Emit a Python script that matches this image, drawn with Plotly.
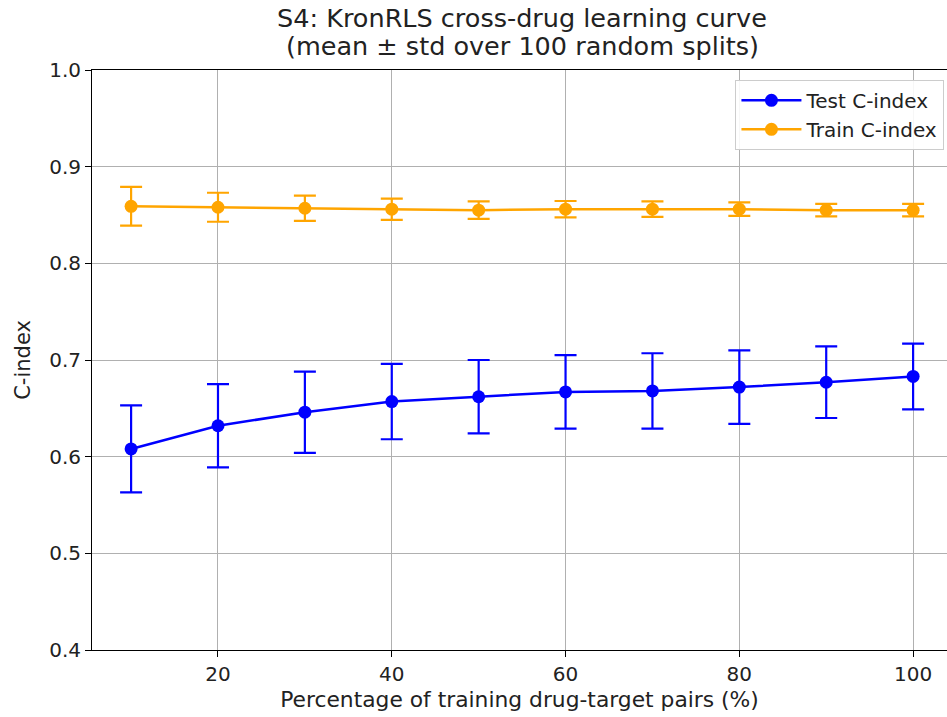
import plotly.graph_objects as go

pct = [10, 20, 30, 40, 50, 60, 70, 80, 90, 100]
test_mean = [0.608, 0.632, 0.646, 0.657, 0.662, 0.667, 0.668, 0.672, 0.677, 0.683]
test_std = [0.045, 0.043, 0.042, 0.039, 0.038, 0.038, 0.039, 0.038, 0.037, 0.034]
train_mean = [0.859, 0.858, 0.857, 0.856, 0.855, 0.856, 0.856, 0.856, 0.855, 0.855]
train_std = [0.020, 0.015, 0.013, 0.011, 0.009, 0.0085, 0.008, 0.007, 0.0065, 0.0065]
title_lines = ["S4: KronRLS cross-drug learning curve", "(mean ± std over 100 random splits)"]

font = "DejaVu Sans, sans-serif"
fig = go.Figure()
fig.add_trace(go.Scatter(
    x=pct, y=test_mean, mode="lines+markers", name="Test C-index",
    line=dict(color="#0000ff", width=2.5),
    marker=dict(color="#0000ff", size=13),
    error_y=dict(type="data", array=test_std, visible=True, color="#0000ff", thickness=2.2, width=11),
))
fig.add_trace(go.Scatter(
    x=pct, y=train_mean, mode="lines+markers", name="Train C-index",
    line=dict(color="#ffa500", width=2.5),
    marker=dict(color="#ffa500", size=13),
    error_y=dict(type="data", array=train_std, visible=True, color="#ffa500", thickness=2.2, width=11),
))

fig.update_layout(
    width=947, height=717,
    margin=dict(l=92, r=0, t=70, b=67),
    paper_bgcolor="white", plot_bgcolor="white",
    font=dict(family=font, size=20, color="#222"),
    title=dict(text=title_lines[0],
               x=522 / 947, xanchor="center", y=1 - 18 / 717, yanchor="middle", yref="container",
               font=dict(size=25.5, family=font, color="#222")),
    showlegend=True,
    legend=dict(x=0.997, xanchor="right", y=0.983, yanchor="top", itemwidth=60,
                bgcolor="rgba(255,255,255,0.9)", bordercolor="#cccccc", borderwidth=1,
                font=dict(size=20, family=font)),
    xaxis=dict(range=[5.5, 103.9], tickvals=[20, 40, 60, 80, 100],
               showgrid=True, gridcolor="#b0b0b0", gridwidth=1,
               showline=True, linecolor="black", linewidth=1, mirror=True,
               ticks="outside", ticklen=6, tickcolor="black",
               zeroline=False, automargin=False,
               title=dict(text="Percentage of training drug-target pairs (%)", font=dict(size=21.8), standoff=6)),
    yaxis=dict(range=[0.4, 1.0], dtick=0.1, tickformat=".1f",
               showgrid=True, gridcolor="#b0b0b0", gridwidth=1,
               showline=True, linecolor="black", linewidth=1, mirror=False,
               ticks="outside", ticklen=6, tickcolor="black",
               zeroline=False, automargin=False,
               title=dict(text="C-index", font=dict(size=21), standoff=12)),
)
fig.add_annotation(text=title_lines[1], xref="paper", yref="paper",
                   x=(522 - 92) / 855, y=(650 - 46) / 580, xanchor="center", yanchor="middle",
                   showarrow=False, font=dict(size=25.5, family=font, color="#222"))

fig.write_html("out.html")
